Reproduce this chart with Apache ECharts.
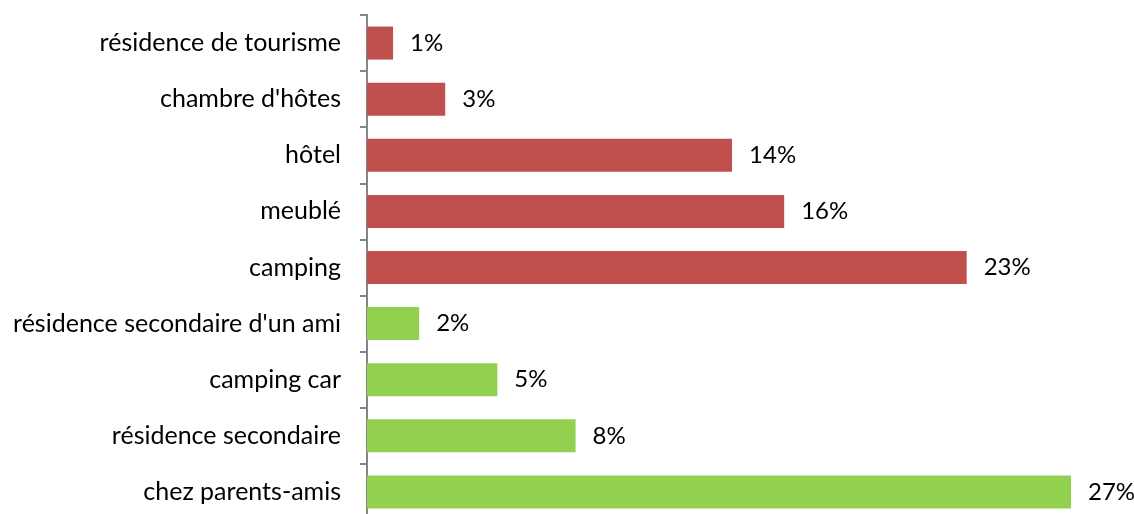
<!DOCTYPE html>
<html>
<head>
<meta charset="utf-8">
<script src="https://cdn.jsdelivr.net/npm/echarts@6/dist/echarts.min.js"></script>
<style>html,body{margin:0;padding:0;background:#fff;overflow:hidden}#c{width:1134px;height:520px}</style>
</head>
<body>
<div id="c"></div>
<script>
const categories = ["résidence de tourisme","chambre d'hôtes","hôtel","meublé","camping","résidence secondaire d'un ami","camping car","résidence secondaire","chez parents-amis"];
const values = [1,3,14,16,23,2,5,8,27];
const groupColors = ["#C0504D","#C0504D","#C0504D","#C0504D","#C0504D","#92D050","#92D050","#92D050","#92D050"];

const FONT = "Lato";
const chart = echarts.init(document.getElementById('c'));
chart.setOption({
  animation:false,
  grid:{left:367,right:63,top:15,bottom:0,containLabel:false},
  xAxis:{type:'value',min:0,max:27,show:false},
  yAxis:{
    type:'category',data:categories,inverse:true,
    axisLine:{show:true,lineStyle:{color:'#868686',width:2}},
    axisTick:{show:true,length:7,lineStyle:{color:'#868686',width:2}},
    axisLabel:{color:'#000',fontFamily:FONT,fontSize:25,margin:26}
  },
  series:[{
    type:'bar',barWidth:33,
    data:values.map((v,i)=>({value:v,itemStyle:{color:groupColors[i]}})),
    label:{show:true,position:'right',distance:17,formatter:'{c}%',color:'#000',fontFamily:FONT,fontSize:24}
  }]
});
</script>
</body>
</html>
